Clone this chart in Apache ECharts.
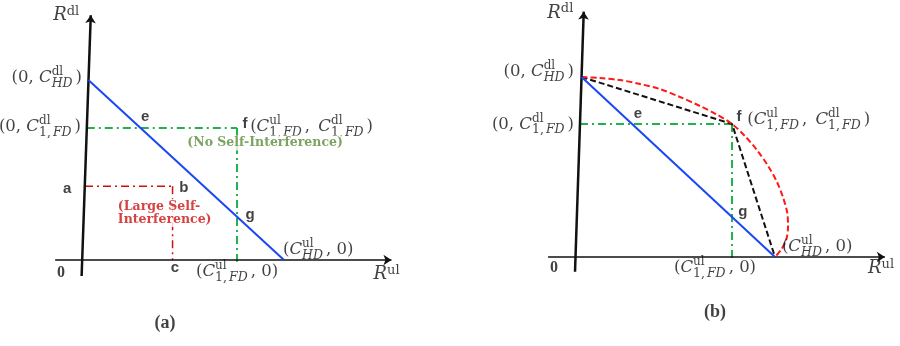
<!DOCTYPE html>
<html><head><meta charset="utf-8">
<script src="https://cdn.jsdelivr.net/npm/echarts@6/dist/echarts.min.js"></script>
<style>html,body{margin:0;padding:0;background:#fff}#c{width:900px;height:346px}</style>
</head><body><div id="c"></div>
<script>
// ---- Panel (a) values (data units, C_HD = 10) ----
const aAxisX = [[-1.5, 0], [15.4, 0]];
const aAxisY = [[-0.17, -0.89], [0.29, 13.6]];
const aBlue = [[0.17, 10], [10, 0]];
const aGreenH = [[0.09, 7.33], [7.64, 7.33]];
const aGreenV = [[7.64, 7.33], [7.64, -0.1]];
const aRedH = [[0, 4.1], [4.4, 4.1]];
const aRedV = [[4.4, 4.1], [4.4, 0]];
// ---- Panel (b) values ----
const bAxisX = [[-1.46, 0], [15.55, 0]];
const bAxisY = [[-0.1, -0.82], [0.34, 13.63]];
const bBlue = [[0.23, 10], [10, 0]];
const bGreenH = [[0.15, 7.39], [7.83, 7.39]];
const bGreenV = [[7.83, 7.39], [7.83, -0.1]];
const bBlack = [[0.23, 10], [7.83, 7.39], [10, 0]];
const bRed = [[0.23, 10], [1.16, 9.94], [2.17, 9.83], [3.18, 9.61], [4.19, 9.33], [5.2, 8.89], [6.21, 8.39], [7.02, 7.94], [7.83, 7.39], [8.48, 6.72], [9.09, 5.94], [9.65, 5.06], [10.1, 4.17], [10.4, 3.33], [10.61, 2.5], [10.66, 1.72], [10.56, 0.94], [10.3, 0.39], [10, 0]];

const SERIF = '"DejaVu Serif", "Liberation Serif", serif';
const TSERIF = '"Liberation Serif", serif';
const SANS = '"Liberation Sans", Arial, sans-serif';
const INK = '#111';
const rich = {
  n: {fontFamily: SERIF, fontSize: 16.5, color: INK, lineHeight: 24, align: 'left'},
  cm: {fontFamily: SERIF, fontSize: 16.5, color: INK, lineHeight: 24, align: 'left', padding: [0, 3, 0, 0]},
  i: {fontFamily: SERIF, fontSize: 16.5, fontStyle: 'italic', color: INK, lineHeight: 24, align: 'left'},
  sp: {fontFamily: SERIF, fontSize: 12, color: INK, verticalAlign: 'top', width: 0, align: 'left'},
  sb: {fontFamily: SERIF, fontSize: 12.5, fontStyle: 'italic', color: INK, verticalAlign: 'bottom', align: 'left', padding: [0, 3, 0, 0]},
  sbn: {fontFamily: SERIF, fontSize: 12.5, color: INK, verticalAlign: 'bottom', align: 'left', padding: [0, 2, 0, 0]},
  R: {fontFamily: SERIF, fontSize: 18, fontStyle: 'italic', color: INK, lineHeight: 21, align: 'left'},
  Rs: {fontFamily: SERIF, fontSize: 13, color: INK, verticalAlign: 'top', align: 'left'},
  b: {fontFamily: SANS, fontSize: 15, fontWeight: 'bold', color: '#111'},
  z: {fontFamily: TSERIF, fontSize: 16, fontWeight: 'bold', color: '#111'},
  cap: {fontFamily: TSERIF, fontSize: 18, fontWeight: 'bold', color: '#111'}
};
function Csym(sup, fd) {
  const sub = fd ? '{sbn|1,}{sb|FD}' : '{sb|HD}';
  return '{i|C}{sp|' + sup + '}' + sub;
}
const tHD_dl = '{n|(0, }' + Csym('dl', false) + '{n|)}';
const tFD_dl = '{n|(0, }' + Csym('dl', true) + '{n|)}';
const tF = '{n|(}' + Csym('ul', true) + '{cm|, }' + Csym('dl', true) + '{n|)}';
const tHD_ul = '{n|(}' + Csym('ul', false) + '{n|, 0)}';
const tFD_ul = '{n|(}' + Csym('ul', true) + '{n|, 0)}';
const tRul = '{R|R}{Rs|ul}';
const tRdl = '{R|R}{Rs|dl}';

function lbl(v, pos, text, extra) {
  return {value: v, label: Object.assign({show: true, position: pos, distance: 0, formatter: text, rich: rich}, extra || {})};
}
const noteStyle = {fontFamily: SERIF, fontSize: 12.5, fontWeight: 'bold', backgroundColor: '#fff', rich: {}};
const aLabels = [
  lbl([-0.15, 10.1], 'left', tHD_dl),
  lbl([-0.2, 7.4], 'left', tFD_dl),
  lbl([8.04, 7.56], 'inside', '{b|f}'),
  lbl([8.3, 7.39], 'right', tF),
  lbl([3.02, 7.94], 'inside', '{b|e}'),
  lbl([-0.9, 3.94], 'inside', '{b|a}'),
  lbl([4.97, 4.0], 'inside', '{b|b}'),
  lbl([4.52, -0.44], 'inside', '{b|c}'),
  lbl([8.29, 2.5], 'inside', '{b|g}'),
  lbl([-1.2, -0.72], 'inside', '{z|0}'),
  lbl([9.95, 0.55], 'right', tHD_ul),
  lbl([7.64, -0.67], 'inside', tFD_ul),
  lbl([14.5, -0.8], 'right', tRul),
  lbl([-1.6, 13.6], 'right', tRdl),
  lbl([9.05, 6.5], 'inside', '(No Self-Interference)', Object.assign({}, noteStyle, {color: '#5b8c3a', padding: [1, 2]})),
  lbl([1.6, 2.61], 'right', '(Large Self-\nInterference)', Object.assign({}, noteStyle, {color: '#cc1111', lineHeight: 13, padding: [1, 1]})),
  lbl([4.02, -3.5], 'inside', '{cap|(a)}')
];
const bLabels = [
  lbl([-0.15, 10.28], 'left', tHD_dl),
  lbl([-0.15, 7.36], 'left', tFD_dl),
  lbl([8.18, 7.78], 'inside', '{b|f}'),
  lbl([8.6, 7.6], 'right', tF),
  lbl([3.08, 7.94], 'inside', '{b|e}'),
  lbl([8.38, 2.5], 'inside', '{b|g}'),
  lbl([-1.16, -0.61], 'inside', '{z|0}'),
  lbl([10.35, 0.55], 'right', tHD_ul),
  lbl([6.97, -0.61], 'inside', tFD_ul),
  lbl([14.7, -0.62], 'right', tRul),
  lbl([-1.5, 13.55], 'right', tRdl),
  lbl([6.97, -3.1], 'inside', '{cap|(b)}')
];

function seg(data, gi, color, width, type, smooth, z) {
  return {type: 'line', xAxisIndex: gi, yAxisIndex: gi, data: data, symbol: 'none', smooth: smooth || false,
    lineStyle: {color: color, width: width, type: type}, silent: true, z: z || 2};
}
function axes(gi, xl, yl) {
  return {type: 'lines', coordinateSystem: 'cartesian2d', xAxisIndex: gi, yAxisIndex: gi, symbol: ['none', 'arrow'], symbolSize: 8,
    silent: true, z: 3,
    data: [
      {coords: xl, lineStyle: {color: '#111', width: 1.5, opacity: 1}},
      {coords: yl, lineStyle: {color: '#111', width: 2.5, opacity: 1}}
    ]};
}
function labels(gi, data) {
  return {type: 'scatter', xAxisIndex: gi, yAxisIndex: gi, symbolSize: 0, data: data, silent: true, z: 5};
}
const DD = [8, 4, 2, 4];
const GREEN = '#22b14c';
const chart = echarts.init(document.getElementById('c'), null, {renderer: 'canvas'});
chart.setOption({
  animation: false,
  backgroundColor: '#fff',
  grid: [
    {left: 45.2, top: 8, width: 358.2, height: 324},
    {left: 537.4, top: 5, width: 356.4, height: 324}
  ],
  xAxis: [
    {type: 'value', gridIndex: 0, min: -2, max: 16, show: false},
    {type: 'value', gridIndex: 1, min: -2, max: 16, show: false}
  ],
  yAxis: [
    {type: 'value', gridIndex: 0, min: -4, max: 14, show: false},
    {type: 'value', gridIndex: 1, min: -4, max: 14, show: false}
  ],
  series: [
    seg(aGreenH, 0, GREEN, 2, DD),
    seg(aGreenV, 0, GREEN, 2, DD),
    seg(aRedH, 0, '#cc1111', 1.5, DD),
    seg(aRedV, 0, '#cc1111', 1.5, DD),
    seg(aBlue, 0, '#1a47f5', 2, 'solid', false, 4),
    axes(0, aAxisX, aAxisY),
    labels(0, aLabels),
    seg(bGreenH, 1, GREEN, 2, DD),
    seg(bGreenV, 1, GREEN, 2, DD),
    seg(bBlue, 1, '#1a47f5', 2, 'solid', false, 4),
    seg(bBlack, 1, '#111', 2, [6, 3]),
    seg(bRed, 1, '#ff1a1a', 2, [6, 3], 0.3),
    axes(1, bAxisX, bAxisY),
    labels(1, bLabels)
  ]
});
</script></body></html>
